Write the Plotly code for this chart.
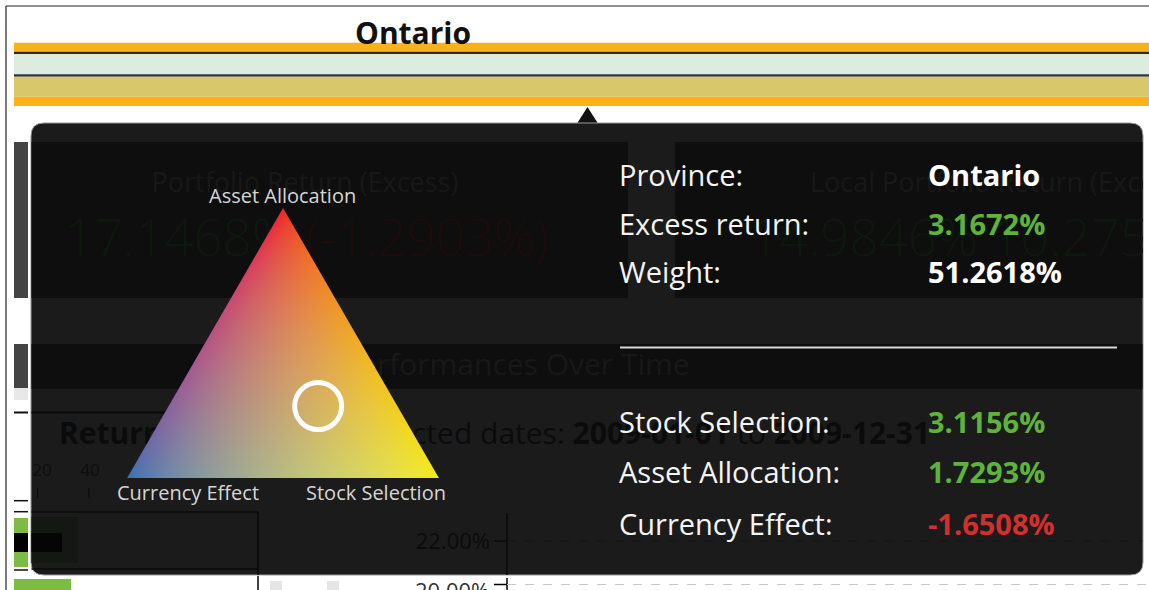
import math
import zlib
import struct
import base64
import numpy as np
import plotly.graph_objects as go

# ------------------------------------------------------------------ data
PROVINCE = "Ontario"
EXCESS_RETURN = 3.1672            # %
WEIGHT = 51.2618                  # %
EFFECT_NAMES = ["Stock Selection", "Asset Allocation", "Currency Effect"]
EFFECT_VALUES = [3.1156, 1.7293, -1.6508]   # %

# dimmed dashboard visible behind the tooltip
PORTFOLIO_RETURN = [17.1468, -1.2903]       # return, excess
LOCAL_RETURN = [14.9846, 10.2753]
PERIOD = ["2009-01-01", "2009-12-31"]
BAR_TICKS = [20, 40]
LINE_TICKS = [22.00, 20.00]

# ------------------------------------------------------------------ style
W, H = 1149, 590
FONT = "Open Sans, Noto Sans, DejaVu Sans, sans-serif"
GREEN = "#5fb33b"
RED = "#d3302d"
WHITE = "#ffffff"
TIP_BG = "#1b1b1b"
PANEL_BG = "#0e0e0e"
VERTEX_RGB = {"Asset Allocation": (238, 32, 36),
              "Currency Effect": (58, 111, 179),
              "Stock Selection": (243, 236, 20)}
TRI_BOX = (126, 208, 440, 478)      # left, top, right, bottom (px)
TIP = (31, 123, 1143, 575)          # tooltip box


def pct(v, d=4):
    return f"{v:.{d}f}%"


def sign_color(v):
    return GREEN if v >= 0 else RED


eff = dict(zip(EFFECT_NAMES, EFFECT_VALUES))

# ------------------------------------------------------------------ ternary geometry (same fit rule as plotly)
dom_x = [TRI_BOX[0] / W, TRI_BOX[2] / W]
dom_y = [1 - TRI_BOX[3] / H, 1 - TRI_BOX[1] / H]
wmax = (dom_x[1] - dom_x[0]) * W
hmax = (dom_y[1] - dom_y[0]) * H
r43 = math.sqrt(4 / 3)
if wmax > r43 * hmax:
    th = hmax
    tw = th * r43
else:
    tw = wmax
    th = tw / r43
tx0 = W * (dom_x[0] + dom_x[1]) / 2 - tw / 2
ty0 = H * (1 - (dom_y[0] + dom_y[1]) / 2) - th / 2

# gradient fill of the triangle (decoration), rendered as an image
c0, c1 = int(math.floor(tx0)), int(math.ceil(tx0 + tw))
r0, r1 = int(math.floor(ty0)), int(math.ceil(ty0 + th))
CX, CY = np.meshgrid(np.arange(c0, c1) + 0.5, np.arange(r0, r1) + 0.5)
wa = (ty0 + th - CY) / th
xl = tx0 + wa * tw / 2
wc = (CX - xl) / tw
wb = 1 - wa - wc
dist = np.minimum(np.minimum(wa, wb), wc) * th
alpha = np.clip(dist + 0.5, 0, 1)


def to_lin(c):
    c = np.asarray(c, dtype=float) / 255
    return np.where(c <= 0.04045, c / 12.92, ((c + 0.055) / 1.055) ** 2.4)


def to_srgb(l):
    l = np.clip(l, 0, 1)
    return np.where(l <= 0.0031308, 12.92 * l, 1.055 * l ** (1 / 2.4) - 0.055)


ka, kb, kc = [np.clip(w, 0, 1) for w in (wa, wb, wc)]
ks = ka + kb + kc
ka, kb, kc = ka / ks, kb / ks, kc / ks
lin = (ka[..., None] * to_lin(VERTEX_RGB["Asset Allocation"])
       + kb[..., None] * to_lin(VERTEX_RGB["Currency Effect"])
       + kc[..., None] * to_lin(VERTEX_RGB["Stock Selection"]))
rgb8 = np.clip(np.round(to_srgb(lin) * 255), 0, 255).astype(np.uint8)
a8 = np.round(alpha * 255).astype(np.uint8)
rgba = np.dstack([rgb8, a8])


def png_uri(arr):
    h, w, _ = arr.shape
    raw = b"".join(b"\x00" + arr[i].tobytes() for i in range(h))

    def chunk(t, d):
        return struct.pack(">I", len(d)) + t + d + struct.pack(">I", zlib.crc32(t + d) & 0xffffffff)
    png = (b"\x89PNG\r\n\x1a\n" + chunk(b"IHDR", struct.pack(">IIBBBBB", w, h, 8, 6, 0, 0, 0))
           + chunk(b"IDAT", zlib.compress(raw, 9)) + chunk(b"IEND", b""))
    return "data:image/png;base64," + base64.b64encode(png).decode()


# ------------------------------------------------------------------ shapes helpers
def rect(x0, y0, x1, y1, color, layer="below"):
    return dict(type="rect", xref="x", yref="y", x0=x0, y0=y0, x1=x1, y1=y1,
                fillcolor=color, line=dict(width=0), layer=layer)


def hline(x0, x1, y, color, width=1.0, dash="solid", layer="below"):
    return dict(type="line", xref="x", yref="y", x0=x0, x1=x1, y0=y, y1=y,
                line=dict(color=color, width=width, dash=dash), layer=layer)


def vline(x, y0, y1, color, width=1.0, layer="below"):
    return dict(type="line", xref="x", yref="y", x0=x, x1=x, y0=y0, y1=y1,
                line=dict(color=color, width=width), layer=layer)


def rounded(x0, y0, x1, y1, r):
    return (f"M{x0 + r},{y0} L{x1 - r},{y0} Q{x1},{y0} {x1},{y0 + r} L{x1},{y1 - r} "
            f"Q{x1},{y1} {x1 - r},{y1} L{x0 + r},{y1} Q{x0},{y1} {x0},{y1 - r} "
            f"L{x0},{y0 + r} Q{x0},{y0} {x0 + r},{y0} Z")


shapes = [
    # page frame
    hline(6, W, 6, "#222", 1.2), vline(6, 6, H, "#222", 1.2),
    # province bar bands
    rect(14, 42.7, W, 51.7, "#fbb117"), rect(14, 51.7, W, 54, "#2a2a2a"),
    rect(14, 54, W, 74.3, "#dcede0"), rect(14, 74.3, W, 76.8, "#333333"),
    rect(14, 76.8, W, 96.8, "#d9c86b"), rect(14, 96.8, W, 106, "#fbb117"),
    # page pieces left of the tooltip
    rect(14, 142, 28, 298, "#444444"), rect(14, 344, 28, 388, "#444444"),
    rect(14, 388, 28, 400, "#e8e8e8"), hline(14, 28, 412.5, "#111", 2),
    hline(14, 28, 500.7, "#111", 1.5), hline(14, 28, 511.7, "#111", 1.5),
    rect(14, 518, 28, 533, "#7dbc42"), rect(14, 533, 28, 552, "#000000"),
    rect(14, 552, 28, 567, "#7dbc42"), hline(14, 28, 570, "#111", 1.5),
    rect(14, 579, 71, 590, "#7dbc42"),
    # page pieces below the tooltip
    vline(258, 576, 590, "#000", 1.5),
    rect(270, 581, 282, 590, "#e6e6e6"), rect(327, 581, 339, 590, "#e6e6e6"),
    vline(507, 578, 590, "#000", 1.5), hline(494, 507, 584.5, "#000", 1.5),
    hline(507, W, 584.5, "#c8c8c8", 1, "dash"),
    # tooltip arrow + box
    dict(type="path", xref="x", yref="y", path="M577,123.5 L587.5,107 L598,123.5 Z",
         fillcolor="#111", line=dict(width=0), layer="below"),
    dict(type="path", xref="x", yref="y", path=rounded(*TIP, 13),
         fillcolor=TIP_BG, line=dict(color="#9a9a9a", width=1), layer="below"),
    # dimmed dashboard panels behind the tooltip
    rect(31.5, 142, 628, 298, PANEL_BG), rect(675, 142, 1142.5, 298, PANEL_BG),
    rect(31.5, 344, 1142.5, 389, PANEL_BG),
    hline(31.5, 300, 412.5, "#0b0b0b", 2),
    vline(37.5, 488, 498, "#0c0c0c", 1.2), vline(89, 488, 498, "#0c0c0c", 1.2),
    hline(31.5, 258, 512, "#0b0b0b", 1.5), hline(31.5, 258, 569, "#0b0b0b", 1.5),
    vline(258, 512, 575, "#090909", 1.5),
    rect(31.5, 517, 78, 563, "#131912"), rect(31.5, 533, 62, 552, "#050505"),
    vline(507, 513, 575, "#0a0a0a", 1.5), hline(494, 507, 541, "#0a0a0a", 1.5),
    hline(507, 1142.5, 541, "#141414", 1, "dash"),
    # separator inside tooltip
    hline(620, 1117, 347.5, "#d8d8d8", 2, layer="above"),
]

# ------------------------------------------------------------------ traces
traces = [go.Scatter(x=[], y=[], xaxis="x", yaxis="y", showlegend=False, hoverinfo="skip")]


def dim_text(x, y, text, size, color, pos="middle center", weight=None):
    f = dict(family=FONT, size=size, color=color)
    if weight:
        f["weight"] = weight
    return go.Scatter(x=[x], y=[y], text=[text], mode="text", textposition=pos,
                      textfont=f, xaxis="x2", yaxis="y2", cliponaxis=True,
                      showlegend=False, hoverinfo="skip")


DIM = "#181818"
DIM_G = "#0d190d"
DIM_R = "#1c0c0c"
DARK = "#0b0b0b"
traces += [
    dim_text(305, 185, "Portfolio Return (Excess)", 27, DIM),
    dim_text(307, 243.5,
             f"<span style='color:{DIM_G}'>{pct(PORTFOLIO_RETURN[0])}</span> "
             f"<span style='color:{DIM_R}'>({pct(PORTFOLIO_RETURN[1])})</span>",
             51, DIM_G, weight=300),
    dim_text(810, 185, "Local Portfolio Return (Excess)", 27, DIM, "middle right"),
    dim_text(750, 243.5, f"{pct(LOCAL_RETURN[0])} {pct(LOCAL_RETURN[1])}", 51, DIM_G,
             "middle right", weight=300),
    dim_text(342, 367, "Performances Over Time", 30, DIM, "middle right"),
    dim_text(59, 436, "<b>Returns</b>", 30, DARK, "middle right"),
    dim_text(412, 436, f"cted dates: <b>{PERIOD[0]}</b> to <b>{PERIOD[1]}</b>", 30, DARK,
             "middle right"),
    dim_text(42, 472, str(BAR_TICKS[0]), 17, "#0e0e0e"),
    dim_text(90, 472, str(BAR_TICKS[1]), 17, "#0e0e0e"),
    dim_text(490, 543, pct(LINE_TICKS[0], 2), 22, DARK, "middle left"),
]

# gradient image lives on its own (upper) subplot so it covers the dim texts
traces.append(go.Image(source=png_uri(rgba), x0=c0 + 0.5, y0=r0 + 0.5, dx=1, dy=1,
                       xaxis="x3", yaxis="y3", hoverinfo="skip"))

traces.append(go.Scatterternary(
    a=[abs(eff["Asset Allocation"])], b=[abs(eff["Currency Effect"])],
    c=[abs(eff["Stock Selection"])], mode="markers",
    marker=dict(size=47, color="rgba(0,0,0,0)", line=dict(color=WHITE, width=5)),
    showlegend=False, hoverinfo="skip", cliponaxis=False))

# ------------------------------------------------------------------ annotations
ann = []


def text(x, y, t, size, color, xanchor="left", yanchor="middle"):
    ann.append(dict(x=x, y=y, xref="x", yref="y", text=t, showarrow=False,
                    xanchor=xanchor, yanchor=yanchor,
                    font=dict(family=FONT, size=size, color=color)))


text(413, 32, f"<b>{PROVINCE}</b>", 30, "#111111", "center")

rows_top = [("Province:", PROVINCE, WHITE),
            ("Excess return:", pct(EXCESS_RETURN), sign_color(EXCESS_RETURN)),
            ("Weight:", pct(WEIGHT), WHITE)]
rows_bottom = [(n + ":", pct(v), sign_color(v)) for n, v in zip(EFFECT_NAMES, EFFECT_VALUES)]
ROW_Y = [174.5, 223, 271.5, 421.7, 471.7, 523]
for (lab, val, col), y in zip(rows_top + rows_bottom, ROW_Y):
    text(617, y, lab, 29, "#f4f4f4")
    text(926, y, f"<b>{val}</b>", 29, col)

LABEL_POS = {"Asset Allocation": (282, 195), "Currency Effect": (188, 492.5),
             "Stock Selection": (376, 492.5)}
for name in EFFECT_NAMES:
    x, y = LABEL_POS[name]
    text(x, y, name, 20, "#d6d6d6", "center")

text(491, 589.5, pct(LINE_TICKS[1], 2), 22, "#333333", "right")

# ------------------------------------------------------------------ layout
hidden = dict(visible=False, showgrid=False, zeroline=False, fixedrange=True)
tern_ax = dict(showline=False, showgrid=False, showticklabels=False, ticks="", title=dict(text=""))
tip_x = dict(domain=[TIP[0] / W, TIP[2] / W], range=[TIP[0], TIP[2]], scaleanchor=False, **hidden)
tip_y = dict(domain=[1 - TIP[3] / H, 1 - TIP[1] / H], range=[TIP[3], TIP[1]], scaleanchor=False, **hidden)
fig = go.Figure(data=traces)
fig.update_layout(
    width=W, height=H, autosize=False,
    margin=dict(l=0, r=0, t=0, b=0, pad=0),
    paper_bgcolor="#ffffff", plot_bgcolor="rgba(0,0,0,0)",
    showlegend=False,
    xaxis=dict(domain=[0, 1], range=[0, W], anchor="y", **hidden),
    yaxis=dict(domain=[0, 1], range=[H, 0], anchor="x", **hidden),
    xaxis2=dict(anchor="y2", **tip_x), yaxis2=dict(anchor="x2", **tip_y),
    xaxis3=dict(anchor="y3", **tip_x), yaxis3=dict(anchor="x3", **tip_y),
    ternary=dict(domain=dict(x=dom_x, y=dom_y), bgcolor="rgba(0,0,0,0)", sum=1,
                 aaxis=tern_ax, baxis=tern_ax, caxis=tern_ax),
    shapes=shapes,
    annotations=ann,
)

fig.write_html("out.html", config={"displayModeBar": False, "staticPlot": True},
               post_script="document.body.style.margin='0';")
